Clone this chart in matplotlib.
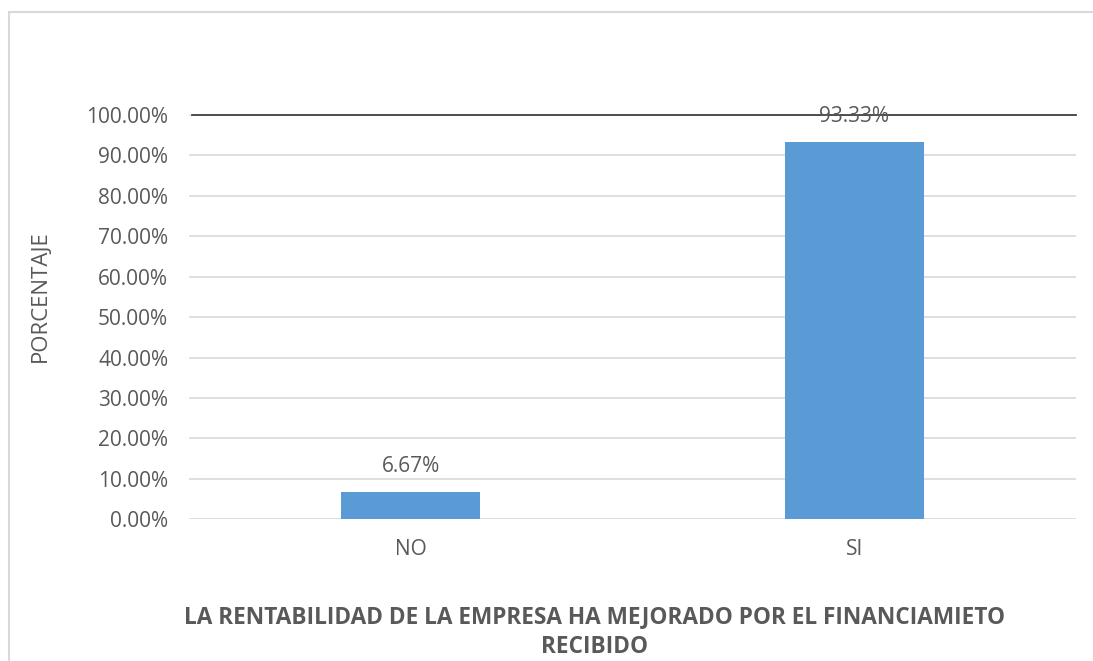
import matplotlib.pyplot as plt
from matplotlib.patches import Rectangle
from matplotlib.ticker import FuncFormatter

categories = ['NO', 'SI']
values = [0.0667, 0.9333]
value_labels = ['6.67%', '93.33%']
y_ticks = [0.0, 0.1, 0.2, 0.3, 0.4, 0.5, 0.6, 0.7, 0.8, 0.9, 1.0]
title = 'LA RENTABILIDAD DE LA EMPRESA HA MEJORADO POR EL FINANCIAMIETO\nRECIBIDO'

W, H = 1093, 661
text_color = '#595959'
bar_color = '#5B9BD5'
grid_color = '#D9D9D9'

plt.rcParams['font.family'] = ['Open Sans', 'DejaVu Sans']

fig = plt.figure(figsize=(W / 100, H / 100), dpi=100)
fig.patch.set_facecolor('white')

# light border of the chart area (runs off right/bottom edges)
fig.patches.append(Rectangle((9 / W, -0.1), 1.2, 1 - 12 / H + 0.1,
                             transform=fig.transFigure, fill=False,
                             edgecolor='#D9D9D9', linewidth=1.5))

ax = fig.add_axes([189 / W, 1 - 519.3 / H, (1076 - 189) / W, (519.3 - 115) / H])
x = range(len(categories))
ax.bar(x, values, width=0.313, color=bar_color, zorder=3)
ax.set_xlim(-0.5, 1.5)
ax.set_ylim(0, 1.0)
ax.set_yticks(y_ticks)
ax.yaxis.set_major_formatter(FuncFormatter(lambda v, p: f'{v * 100:.2f}%'))
ax.set_xticks(list(x))
ax.set_xticklabels(categories)
ax.tick_params(length=0, labelsize=15, colors=text_color)
ax.tick_params(axis='y', pad=15)
ax.tick_params(axis='x', pad=14)
ax.grid(axis='y', color=grid_color, linewidth=1.2, zorder=0)
for s in ax.spines.values():
    s.set_visible(False)
ax.axhline(1.0, xmin=0.003, color='#404040', linewidth=1.3, zorder=4, clip_on=False)

for i, (v, lab) in enumerate(zip(values, value_labels)):
    ax.text(i, v + 0.064, lab, ha='center', va='center', fontsize=15,
            color=text_color, zorder=5)

fig.text(40 / W, 1 - 296 / H, 'PORCENTAJE', rotation=90, ha='center',
         va='center', fontsize=16, color=text_color)
fig.text(595 / W, 1 - 632 / H, title, ha='center', va='center', fontsize=16.3,
         fontweight='bold', color=text_color, linespacing=1.38)

fig.savefig('out.png', dpi=100)
